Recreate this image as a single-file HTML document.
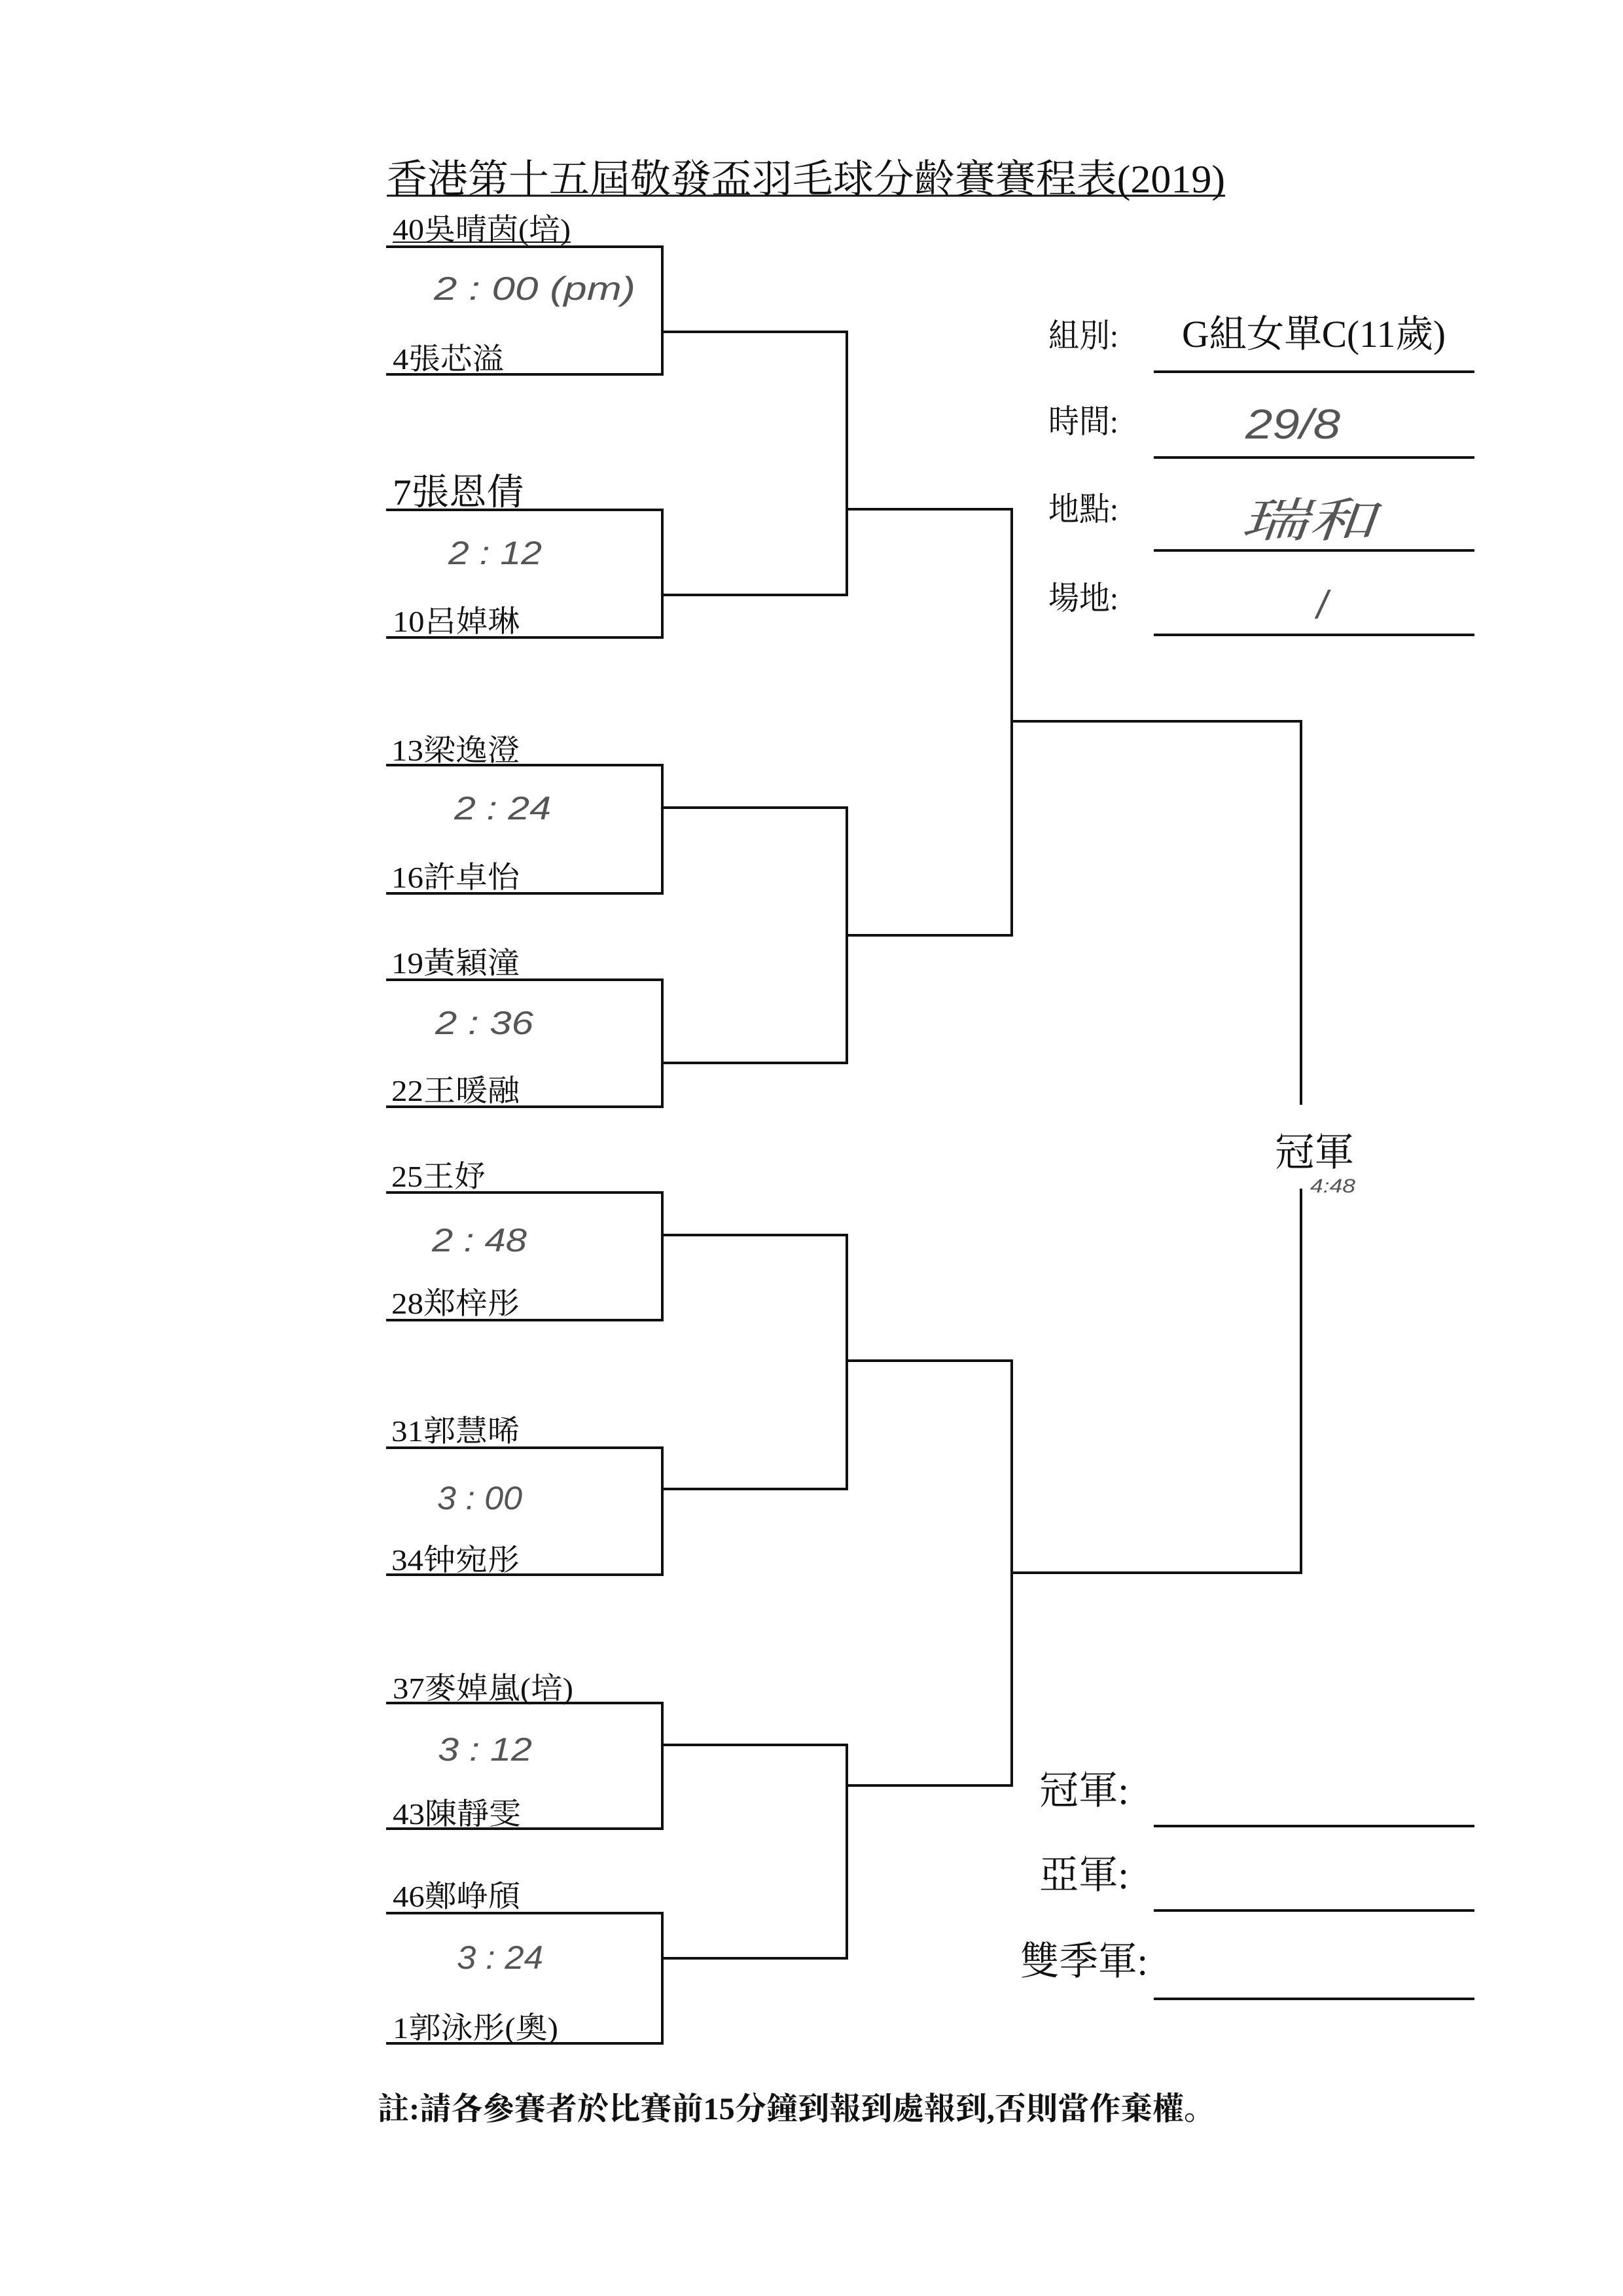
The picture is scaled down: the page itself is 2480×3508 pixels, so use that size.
<!DOCTYPE html>
<html><head><meta charset="utf-8"><style>
html,body{margin:0;padding:0;background:#fff;}
svg{display:block;}
.s{font-family:"Liberation Serif","Noto Serif CJK SC",serif;fill:#111;}
.h{font-family:"Liberation Sans","DejaVu Sans",sans-serif;font-style:italic;fill:#555;font-weight:normal;}
</style></head><body>
<svg width="2480" height="3508" viewBox="0 0 2480 3508" xmlns="http://www.w3.org/2000/svg">
<g stroke="#111" stroke-width="4" fill="none" stroke-linecap="square">
<path d="M592 377H1012V572H592"/>
<path d="M592 779H1012V974H592"/>
<path d="M592 1169H1012V1365H592"/>
<path d="M592 1497H1012V1691H592"/>
<path d="M592 1822H1012V2017H592"/>
<path d="M592 2212H1012V2406H592"/>
<path d="M592 2602H1012V2794H592"/>
<path d="M592 2923H1012V3122H592"/>
<path d="M1012 507H1294V909H1012"/><path d="M1294 778H1546"/>
<path d="M1012 1234H1294V1624H1012"/><path d="M1294 1429H1546"/>
<path d="M1012 1887H1294V2275H1012"/><path d="M1294 2079H1546"/>
<path d="M1012 2666H1294V2992H1012"/><path d="M1294 2728H1546"/>
<path d="M1546 778V1429"/><path d="M1546 1102H1988V1686"/>
<path d="M1546 2079V2728"/><path d="M1546 2403H1988V1818"/>
</g>
<g stroke="#111" stroke-width="4">
<line x1="591" y1="299" x2="1872" y2="299" stroke-width="3"/>
<line x1="600" y1="370" x2="872" y2="370" stroke-width="2"/>
<line x1="1763" y1="568" x2="2253" y2="568"/>
<line x1="1763" y1="699" x2="2253" y2="699"/>
<line x1="1763" y1="841" x2="2253" y2="841"/>
<line x1="1763" y1="970" x2="2253" y2="970"/>
<line x1="1763" y1="2790" x2="2253" y2="2790"/>
<line x1="1763" y1="2919" x2="2253" y2="2919"/>
<line x1="1763" y1="3054" x2="2253" y2="3054"/>
</g>
<text class="s" x="591" y="294" font-size="60" textLength="1281" lengthAdjust="spacingAndGlyphs">香港第十五屆敬發盃羽毛球分齡賽賽程表(2019)</text>
<g class="s" font-size="46">
<text x="600" y="366" textLength="272" lengthAdjust="spacingAndGlyphs">40吳晴茵(培)</text>
<text x="600" y="564" textLength="170" lengthAdjust="spacingAndGlyphs">4張芯溢</text>
<text x="600" y="771" font-size="56" textLength="201" lengthAdjust="spacingAndGlyphs">7張恩倩</text>
<text x="600" y="965" textLength="194" lengthAdjust="spacingAndGlyphs">10呂婥琳</text>
<text x="598" y="1162" textLength="196" lengthAdjust="spacingAndGlyphs">13梁逸澄</text>
<text x="598" y="1356" textLength="196" lengthAdjust="spacingAndGlyphs">16許卓怡</text>
<text x="598" y="1487" textLength="196" lengthAdjust="spacingAndGlyphs">19黃穎潼</text>
<text x="598" y="1682" textLength="196" lengthAdjust="spacingAndGlyphs">22王暖融</text>
<text x="598" y="1813" textLength="144" lengthAdjust="spacingAndGlyphs">25王妤</text>
<text x="598" y="2007" textLength="196" lengthAdjust="spacingAndGlyphs">28郑梓彤</text>
<text x="598" y="2202" textLength="196" lengthAdjust="spacingAndGlyphs">31郭慧晞</text>
<text x="598" y="2399" textLength="196" lengthAdjust="spacingAndGlyphs">34钟宛彤</text>
<text x="600" y="2595" textLength="276" lengthAdjust="spacingAndGlyphs">37麥婥嵐(培)</text>
<text x="600" y="2787" textLength="196" lengthAdjust="spacingAndGlyphs">43陳靜雯</text>
<text x="600" y="2913" textLength="195" lengthAdjust="spacingAndGlyphs">46鄭峥頎</text>
<text x="600" y="3114" textLength="253" lengthAdjust="spacingAndGlyphs">1郭泳彤(奧)</text>
</g>
<g class="h" font-size="50">
<text x="663" y="458" textLength="308" lengthAdjust="spacingAndGlyphs">2 : 00 (pm)</text>
<text x="685" y="862" textLength="143" lengthAdjust="spacingAndGlyphs">2 : 12</text>
<text x="694" y="1252" textLength="148" lengthAdjust="spacingAndGlyphs">2 : 24</text>
<text x="665" y="1580" textLength="150" lengthAdjust="spacingAndGlyphs">2 : 36</text>
<text x="660" y="1912" textLength="145" lengthAdjust="spacingAndGlyphs">2 : 48</text>
<text x="668" y="2306" textLength="130" lengthAdjust="spacingAndGlyphs">3 : 00</text>
<text x="669" y="2690" textLength="144" lengthAdjust="spacingAndGlyphs">3 : 12</text>
<text x="698" y="3008" textLength="132" lengthAdjust="spacingAndGlyphs">3 : 24</text>
<text x="1903" y="670" font-size="64" textLength="145" lengthAdjust="spacingAndGlyphs">29/8</text>
<text x="2012" y="945" font-size="60">/</text>
<text x="2002" y="1822" font-size="30" textLength="69" lengthAdjust="spacingAndGlyphs">4:48</text>
</g>
<text x="1895" y="820" font-family="'Noto Serif CJK SC',serif" font-size="72" fill="#555" font-style="italic" textLength="207" lengthAdjust="spacingAndGlyphs">瑞和</text>
<g class="s" font-size="50">
<text x="1602" y="530" textLength="107" lengthAdjust="spacingAndGlyphs">組別:</text>
<text x="1806" y="530" font-size="58" textLength="403" lengthAdjust="spacingAndGlyphs">G組女單C(11歲)</text>
<text x="1602" y="661" textLength="107" lengthAdjust="spacingAndGlyphs">時間:</text>
<text x="1602" y="795" textLength="107" lengthAdjust="spacingAndGlyphs">地點:</text>
<text x="1602" y="931" textLength="107" lengthAdjust="spacingAndGlyphs">場地:</text>
<text x="1948" y="1781" font-size="60" textLength="121" lengthAdjust="spacingAndGlyphs">冠軍</text>
<text x="1588" y="2756" font-size="60" textLength="137" lengthAdjust="spacingAndGlyphs">冠軍:</text>
<text x="1588" y="2885" font-size="60" textLength="137" lengthAdjust="spacingAndGlyphs">亞軍:</text>
<text x="1559" y="3017" font-size="60" textLength="195" lengthAdjust="spacingAndGlyphs">雙季軍:</text>
</g>
<text class="s" x="577" y="3238" font-size="48" font-weight="bold" textLength="1280" lengthAdjust="spacingAndGlyphs">註:請各參賽者於比賽前15分鐘到報到處報到,否則當作棄權。</text>
</svg>
</body></html>
